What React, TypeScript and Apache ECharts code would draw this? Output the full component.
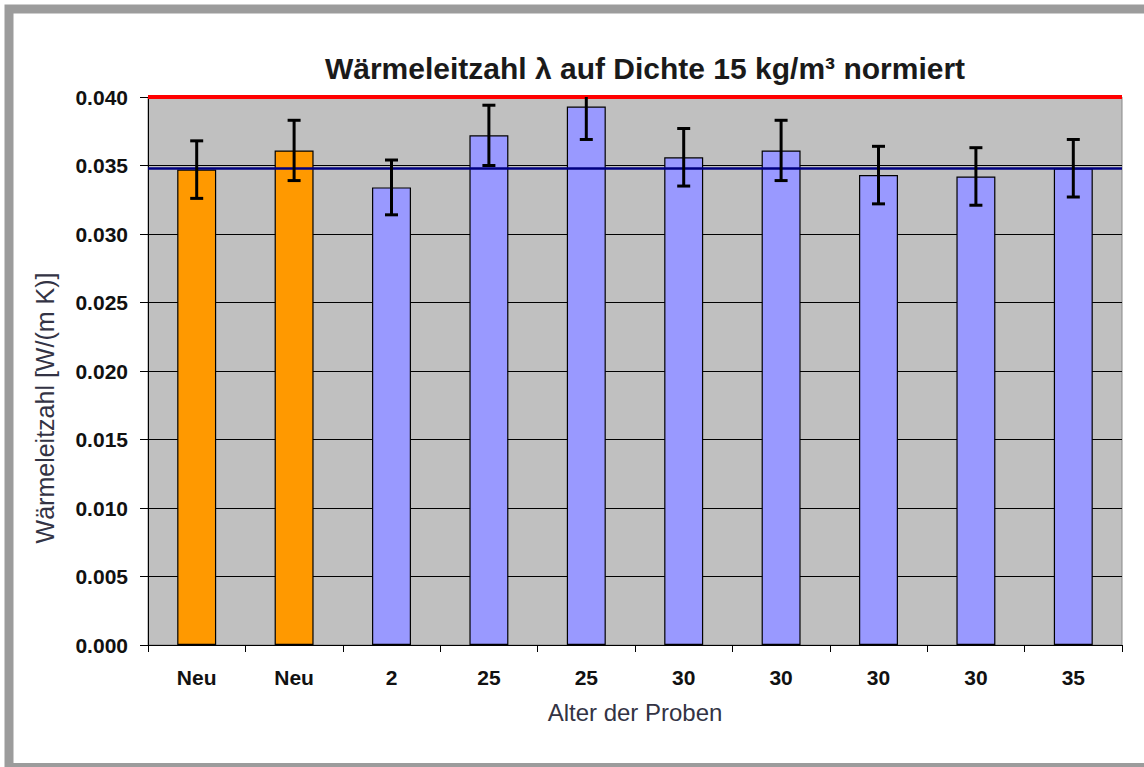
import React, { useEffect, useRef } from "react";
import * as echarts from "echarts";

const categories = ["Neu", "Neu", "2", "25", "25", "30", "30", "30", "30", "35"];
const barValues = [0.0347, 0.0361, 0.0334, 0.0372, 0.0393, 0.0356, 0.0361, 0.0343, 0.0342, 0.0348];
const errorValues = [0.0021, 0.0022, 0.002, 0.0022, 0.0024, 0.0021, 0.0022, 0.0021, 0.0021, 0.0021];
const isNew = [true, true, false, false, false, false, false, false, false, false];
const limitValue = 0.04;
const meanValue = 0.0348;
const yMin = 0;
const yMax = 0.04;
const yInterval = 0.005;

const titleText = "Wärmeleitzahl λ auf Dichte 15 kg/m³ normiert";
const xName = "Alter der Proben";
const yName = "Wärmeleitzahl [W/(m K)]";

export default function App() {
  const ref = useRef<HTMLDivElement>(null);
  useEffect(() => {
    const chart = echarts.init(ref.current!, null, { renderer: "svg" });
    const font = "Liberation Sans, Arial, sans-serif";
    chart.setOption({
      animation: false,
      backgroundColor: "#ffffff",
      textStyle: { fontFamily: font },
      title: {
        text: titleText,
        left: 640,
        top: 48,
        textAlign: "center",
        textStyle: { fontSize: 30, fontWeight: "bold", color: "#1a1a1a", fontFamily: font },
      },
      grid: {
        left: 148,
        top: 97,
        right: 22,
        bottom: 122,
        show: true,
        backgroundColor: "#C0C0C0",
        borderColor: "#888888",
        borderWidth: 1,
      },
      xAxis: {
        type: "category",
        data: categories,
        name: xName,
        nameLocation: "middle",
        nameGap: 55,
        nameTextStyle: { fontSize: 24, color: "#333344", fontFamily: font },
        axisLine: { show: true, lineStyle: { color: "#000", width: 1 } },
        axisTick: { show: true, alignWithLabel: false, length: 7, lineStyle: { color: "#000" } },
        axisLabel: { fontSize: 21, fontWeight: "bold", color: "#111", margin: 22, fontFamily: font },
        splitLine: { show: false },
      },
      yAxis: {
        type: "value",
        min: yMin,
        max: yMax,
        interval: yInterval,
        axisLine: { show: true, lineStyle: { color: "#000", width: 1 } },
        axisTick: { show: true, length: 8, lineStyle: { color: "#000" } },
        axisLabel: {
          fontSize: 21,
          fontWeight: "bold",
          color: "#111",
          margin: 20,
          fontFamily: font,
          formatter: (v: number) => v.toFixed(3),
        },
        splitLine: { show: true, lineStyle: { color: "#000", width: 1 } },
      },
      graphic: [
        {
          type: "rect",
          shape: { x: 9, y: 9, width: 1160, height: 758.5 },
          style: { fill: "none", stroke: "#9c9c9c", lineWidth: 9 },
          silent: true,
          z: 0,
        },
        {
          type: "text",
          x: 45,
          y: 408,
          rotation: Math.PI / 2,
          style: {
            text: yName,
            fontSize: 25,
            fontFamily: font,
            fill: "#333344",
            textAlign: "center",
            textVerticalAlign: "middle",
          },
        },
      ],
      series: [
        {
          type: "bar",
          barWidth: "40%",
          data: barValues.map((v, i) => ({
            value: v,
            itemStyle: { color: isNew[i] ? "#FF9900" : "#9999FF", borderColor: "#000", borderWidth: 1.2 },
          })),
          markLine: {
            silent: true,
            symbol: "none",
            precision: 6,
            label: { show: false },
            data: [
              { yAxis: meanValue, lineStyle: { color: "#000080", width: 2.5, type: "solid" } },
              { yAxis: limitValue, lineStyle: { color: "#FF0000", width: 4, type: "solid" } },
            ],
          },
          z: 2,
        },
        {
          type: "custom",
          z: 5,
          data: barValues.map((v, i) => [i, v, errorValues[i]]),
          renderItem: (params: any, api: any) => {
            const idx = api.value(0);
            const v = api.value(1);
            const e = api.value(2);
            const hi = Math.min(v + e, yMax);
            const lo = Math.max(v - e, yMin);
            const pHi = api.coord([idx, hi]);
            const pLo = api.coord([idx, lo]);
            const capHalf = 6.5;
            const style = { stroke: "#000", lineWidth: 3 };
            const children: any[] = [
              { type: "line", shape: { x1: pHi[0], y1: pHi[1], x2: pLo[0], y2: pLo[1] }, style },
              { type: "line", shape: { x1: pLo[0] - capHalf, y1: pLo[1], x2: pLo[0] + capHalf, y2: pLo[1] }, style },
            ];
            if (v + e <= yMax) {
              children.push({
                type: "line",
                shape: { x1: pHi[0] - capHalf, y1: pHi[1], x2: pHi[0] + capHalf, y2: pHi[1] },
                style,
              });
            }
            return { type: "group", children };
          },
        },
      ],
    });
    return () => chart.dispose();
  }, []);
  return (
    <div
      ref={ref}
      style={{ position: "fixed", left: 0, top: 0, width: 1144, height: 767 }}
    />
  );
}
